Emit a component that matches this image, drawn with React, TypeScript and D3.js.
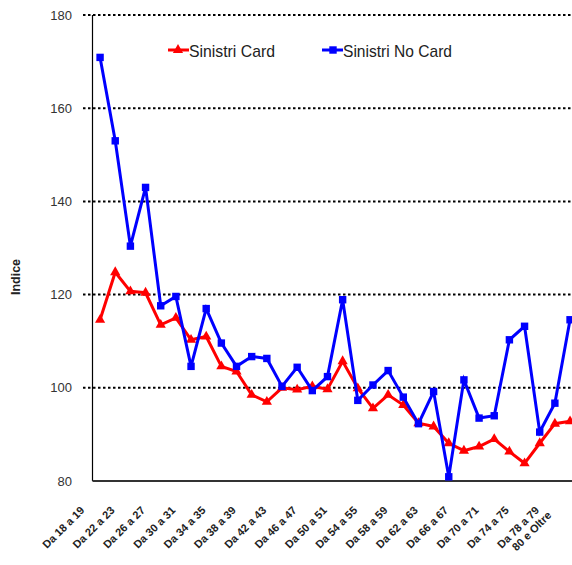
import React from "react";
import * as d3 from "d3";

const categories = [
  "Da 18 a 19", "Da 20 a 21", "Da 22 a 23", "Da 24 a 25", "Da 26 a 27", "Da 28 a 29",
  "Da 30 a 31", "Da 32 a 33", "Da 34 a 35", "Da 36 a 37", "Da 38 a 39", "Da 40 a 41",
  "Da 42 a 43", "Da 44 a 45", "Da 46 a 47", "Da 48 a 49", "Da 50 a 51", "Da 52 a 53",
  "Da 54 a 55", "Da 56 a 57", "Da 58 a 59", "Da 60 a 61", "Da 62 a 63", "Da 64 a 65",
  "Da 66 a 67", "Da 68 a 69", "Da 70 a 71", "Da 72 a 73", "Da 74 a 75", "Da 76 a 77",
  "Da 78 a 79", "80 e Oltre",
];

const sinistriCard = [
  114.6, 124.8, 120.7, 120.4, 113.5, 115, 110.3, 111, 104.6, 103.5, 98.5, 97,
  100, 99.6, 100.3, 99.7, 105.7, 99.9, 95.6, 98.5, 96.3, 92.4, 91.7, 88.1,
  86.5, 87.4, 89, 86.3, 83.8, 88.1, 92.3, 92.8,
];

const sinistriNoCard = [
  170.9, 153, 130.4, 143, 117.6, 119.6, 104.6, 117, 109.6, 104.6, 106.7, 106.3,
  100.3, 104.4, 99.4, 102.4, 118.9, 97.3, 100.6, 103.7, 98, 92.3, 99.2, 80.9,
  101.7, 93.5, 94, 110.3, 113.2, 90.5, 96.7, 114.6,
];

const yTicks = [80, 100, 120, 140, 160, 180];
const gridTicks = [100, 120, 140, 160, 180];
const seriesNames = ["Sinistri Card", "Sinistri No Card"];

const W = 572;
const H = 565;
const left = 92.5;
const band = 15.16;
const top = 15;
const bottom = 481;

export default function App() {
  const x = d3
    .scaleBand<string>()
    .domain(categories)
    .range([left, left + band * categories.length])
    .padding(0);
  const y = d3.scaleLinear().domain([80, 180]).range([bottom, top]);
  const cx = (c: string) => (x(c) as number) + x.bandwidth() / 2;

  const line = d3
    .line<number>()
    .x((_, i) => cx(categories[i]))
    .y((d) => y(d));

  const tri = d3.symbol().type(d3.symbolTriangle).size(45)() as string;
  const sq = d3.symbol().type(d3.symbolSquare).size(55)() as string;

  return (
    <svg width={W} height={H} style={{ position: "absolute", left: 0, top: 0, background: "#fff" }}
      fontFamily="'Liberation Sans', Arial, sans-serif">
      <style>{`body{margin:0}`}</style>
      <rect width={W} height={H} fill="#fff" />
      {gridTicks.map((t) => (
        <line key={t} x1={83} x2={W} y1={y(t)} y2={y(t)} stroke="#000" strokeWidth={2}
          strokeDasharray="2.5,2.5" />
      ))}
      <line x1={left} x2={left} y1={top} y2={bottom} stroke="#000" strokeWidth={1.2} />
      <line x1={left} x2={W} y1={bottom} y2={bottom} stroke="#333" strokeWidth={2} />
      {yTicks.map((t) => (
        <text key={t} x={72} y={y(t) + 4.5} textAnchor="end" fontSize={13} fill="#333">
          {t}
        </text>
      ))}
      <text transform={`translate(20,277) rotate(-90)`} textAnchor="middle" fontSize={12.5}
        fontWeight="bold" fill="#222">Indice</text>
      {categories.map((c, i) => {
        if (i % 2 !== 0 && i !== categories.length - 1) return null;
        const last = i === categories.length - 1;
        const tx = cx(c) - (last ? 18 : 15);
        const ty = last ? 516 : 511;
        return (
          <text key={c} transform={`translate(${tx},${ty}) rotate(-45)`} textAnchor="end"
            fontSize={11} fontWeight="bold" fill="#222">{c}</text>
        );
      })}
      <path d={line(sinistriCard) as string} fill="none" stroke="#ff0000" strokeWidth={3} />
      {sinistriCard.map((v, i) => (
        <path key={i} d={tri} transform={`translate(${cx(categories[i])},${y(v)})`} fill="#ff0000" />
      ))}
      <path d={line(sinistriNoCard) as string} fill="none" stroke="#0000ff" strokeWidth={3} />
      {sinistriNoCard.map((v, i) => (
        <path key={i} d={sq} transform={`translate(${cx(categories[i])},${y(v)})`} fill="#0000ff" />
      ))}
      <g>
        <line x1={168} x2={189} y1={50} y2={50} stroke="#ff0000" strokeWidth={3} />
        <path d={tri} transform="translate(178,50)" fill="#ff0000" />
        <text x={189} y={56.5} fontSize={17} fill="#222" textLength={86}
          lengthAdjust="spacingAndGlyphs">{seriesNames[0]}</text>
        <line x1={322} x2={343} y1={50} y2={50} stroke="#0000ff" strokeWidth={3} />
        <path d={sq} transform="translate(333,50)" fill="#0000ff" />
        <text x={343} y={56.5} fontSize={17} fill="#222" textLength={109}
          lengthAdjust="spacingAndGlyphs">{seriesNames[1]}</text>
      </g>
    </svg>
  );
}
